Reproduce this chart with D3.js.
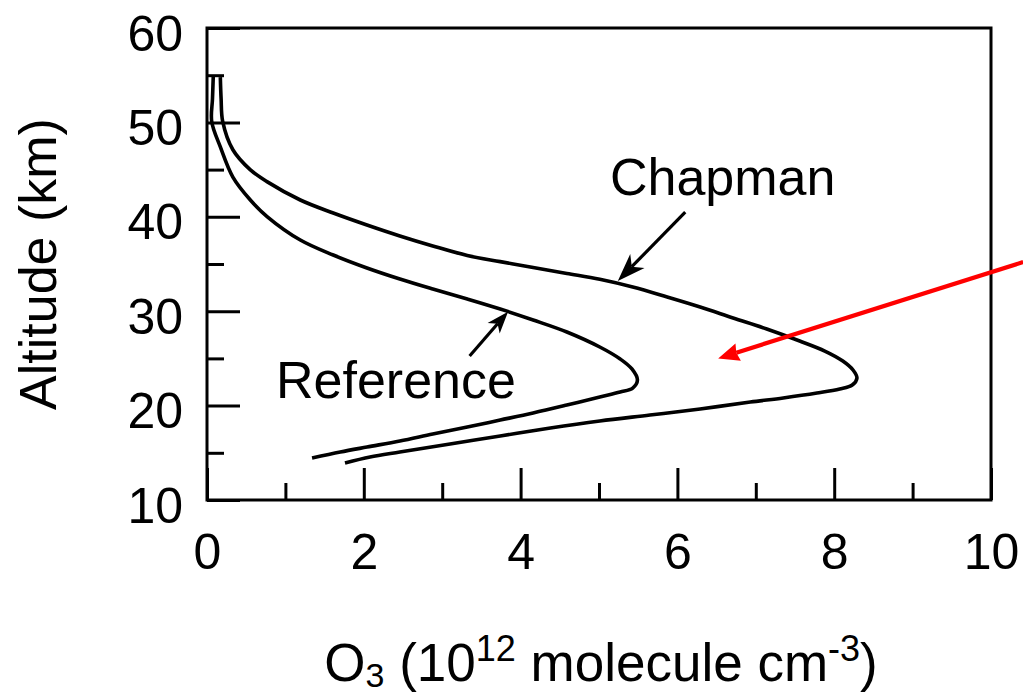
<!DOCTYPE html>
<html><head><meta charset="utf-8">
<script src="https://cdn.jsdelivr.net/npm/d3@7"></script>
<style>body{margin:0;background:#fff}svg{display:block}</style>
</head><body><svg id="c" width="1023" height="695"></svg>
<script>
// ---- data ----
const refAlt  = [54.9,52.5,50.1,47.4,44.2,41.8,40.0,37.54,35.95,34.58,33.41,32.35,31.29,30.23,29.07,27.80,26.21,24.94,23.88,22.71,21.86,21.44,20.91,20.06,19.22,18.47,17.73,16.99,16.25,15.61,15.08,14.45];
const refO3   = [0.08,0.07,0.06,0.17,0.33,0.55,0.77,1.19,1.61,2.04,2.46,2.88,3.32,3.74,4.16,4.59,5.01,5.27,5.42,5.49,5.43,5.27,5.01,4.59,4.16,3.74,3.32,2.88,2.46,2.04,1.70,1.34];
const chapAlt = [54.8,52.5,50.1,47.1,45.0,43.7,41.78,40.40,39.13,37.97,36.91,35.90,35.25,34.63,34.00,33.38,32.56,31.50,30.44,29.28,28.11,26.84,25.78,24.72,23.77,22.92,22.18,21.76,21.33,20.81,20.38,19.64,19.00,18.37,17.63,16.78,15.93,15.08,14.55,13.92];
const chapO3  = [0.17,0.18,0.20,0.33,0.55,0.77,1.19,1.61,2.04,2.46,2.88,3.32,3.74,4.16,4.59,5.01,5.43,5.87,6.29,6.71,7.14,7.56,7.88,8.11,8.24,8.29,8.23,8.07,7.78,7.35,6.93,6.29,5.65,5.01,4.38,3.74,3.10,2.46,2.08,1.76];
const xMajor = [0,2,4,6,8,10];
const xMinor = [1,3,5,7,9];
const yMajor = [10,20,30,40,50,60];
const yMinor = [15,25,35,45,55];
const seriesNames = ["Reference","Chapman"];
// annotation anchors in data units: [O3, altitude]
const chapLabelAt = [5.14, 42.3];
const refLabelAt  = [0.88, 20.8];
const chapArrow = {tail:[6.10,40.5], tip:[5.24,33.2]};
const refArrow  = {tail:[3.35,25.25], tip:[3.84,29.95]};
const redArrow  = {tail:[10.41,35.2], tip:[6.52,25.0]};

// ---- layout ----
const svg = d3.select("#c");
const FONT = "'Liberation Sans', Arial, Helvetica, sans-serif";
const x = d3.scaleLinear().domain([0,10]).range([207,991]);
const y = d3.scaleLinear().domain([10,60]).range([500,28]);
const SW = 3;

// frame
svg.append("rect").attr("x",x(0)).attr("y",y(60)).attr("width",x(10)-x(0)).attr("height",y(10)-y(60))
  .attr("fill","none").attr("stroke","#000").attr("stroke-width",SW);

// x axis
const gx = svg.append("g").attr("transform",`translate(0,${y(10)})`)
  .call(d3.axisBottom(x).tickValues(xMajor).tickSize(-32).tickFormat(d3.format("d")));
gx.select(".domain").remove();
gx.selectAll(".tick line").attr("stroke","#000").attr("stroke-width",SW);
gx.selectAll(".tick text").attr("y",69).attr("dy",0).attr("fill","#000")
  .style("font-family",FONT).style("font-size","50px");
const gxm = svg.append("g").attr("transform",`translate(0,${y(10)})`)
  .call(d3.axisBottom(x).tickValues(xMinor).tickSize(-17).tickFormat(""));
gxm.select(".domain").remove();
gxm.selectAll(".tick line").attr("stroke","#000").attr("stroke-width",SW);

// y axis
const gy = svg.append("g").attr("transform",`translate(${x(0)},0)`)
  .call(d3.axisLeft(y).tickValues(yMajor).tickSize(-33).tickPadding(24).tickFormat(d3.format("d")));
gy.select(".domain").remove();
gy.selectAll(".tick line").attr("stroke","#000").attr("stroke-width",SW);
gy.selectAll(".tick text").attr("dy",22).attr("fill","#000")
  .style("font-family",FONT).style("font-size","50px");
const gym = svg.append("g").attr("transform",`translate(${x(0)},0)`)
  .call(d3.axisLeft(y).tickValues(yMinor).tickSize(-17).tickFormat(""));
gym.select(".domain").remove();
gym.selectAll(".tick line").attr("stroke","#000").attr("stroke-width",SW);

// curves
const line = d3.line().x(d=>x(d[0])).y(d=>y(d[1])).curve(d3.curveCatmullRom.alpha(0.5));
const refPts = refAlt.map((a,i)=>[refO3[i],a]);
const chapPts = chapAlt.map((a,i)=>[chapO3[i],a]);
[refPts, chapPts].forEach(p=>{
  svg.append("path").attr("d",line(p)).attr("fill","none").attr("stroke","#000")
    .attr("stroke-width",3.6).attr("stroke-linejoin","round").attr("stroke-linecap","butt");
});

// labels
svg.append("text").attr("x",x(chapLabelAt[0])).attr("y",y(chapLabelAt[1]))
  .style("font-family",FONT).style("font-size","52px").attr("fill","#000").text(seriesNames[1]);
svg.append("text").attr("x",x(refLabelAt[0])).attr("y",y(refLabelAt[1]))
  .style("font-family",FONT).style("font-size","52px").attr("fill","#000").text(seriesNames[0]);

// arrows
function arrow(a, color, width, len, halfW, notch){
  const tx=x(a.tip[0]), ty=y(a.tip[1]), sx=x(a.tail[0]), sy=y(a.tail[1]);
  const L=Math.hypot(sx-tx,sy-ty), ux=(sx-tx)/L, uy=(sy-ty)/L, px=-uy, py=ux;
  const bx=tx+ux*(len-notch), by=ty+uy*(len-notch);
  svg.append("line").attr("x1",sx).attr("y1",sy).attr("x2",bx).attr("y2",by)
    .attr("stroke",color).attr("stroke-width",width);
  const pts=[[tx,ty],[tx+ux*len+px*halfW,ty+uy*len+py*halfW],[bx,by],[tx+ux*len-px*halfW,ty+uy*len-py*halfW]];
  svg.append("path").attr("d","M"+pts.map(p=>p.join(",")).join("L")+"Z").attr("fill",color);
}
arrow(chapArrow,"#000",3.2,28,10,8);
arrow(refArrow,"#000",3.2,22,8,6);
arrow(redArrow,"#ff0000",4.2,21,9,2);

// axis titles
svg.append("text").attr("transform",`translate(56,264) rotate(-90)`).attr("text-anchor","middle")
  .style("font-family",FONT).style("font-size","52px").attr("fill","#000").text("Altitude (km)");
const xt = svg.append("text").attr("x",601).attr("y",681).attr("text-anchor","middle")
  .style("font-family",FONT).style("font-size","53px").attr("fill","#000");
xt.append("tspan").text("O");
xt.append("tspan").attr("dy",6).style("font-size","34px").text("3");
xt.append("tspan").attr("dy",-6).text(" (10");
xt.append("tspan").attr("dy",-20).style("font-size","36px").text("12");
xt.append("tspan").attr("dy",20).text(" molecule cm");
xt.append("tspan").attr("dy",-20).style("font-size","36px").text("-3");
xt.append("tspan").attr("dy",20).text(")");
</script></body></html>
